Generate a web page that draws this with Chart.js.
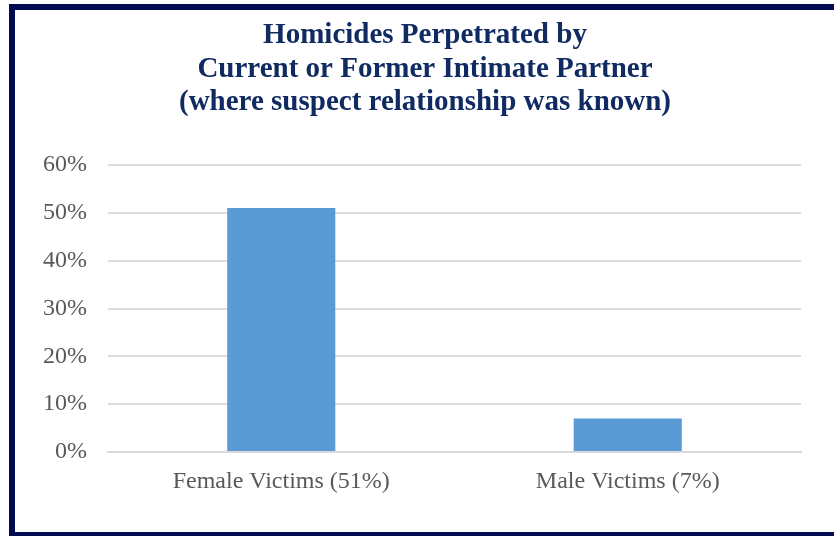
<!DOCTYPE html>
<html>
<head>
<meta charset="utf-8">
<script src="https://cdn.jsdelivr.net/npm/chart.js@4"></script>
<style>
  html, body { margin: 0; padding: 0; background: #fff; overflow: hidden; }
  #frame {
    position: absolute; left: 9px; top: 4px;
    width: 900px; height: 522px;
    border: 6px solid #020a4f;
  }
  #wrap { position: absolute; left: 0; top: 0; width: 834px; height: 536px; }
</style>
</head>
<body>
<div id="frame"></div>
<div id="wrap"><canvas id="myChart" width="834" height="536"></canvas></div>
<script>
// categories and values (percent)
const categories = ["Female Victims (51%)", "Male Victims (7%)"];
const shares = [51, 7];
const titleLines = [
  "Homicides Perpetrated by",
  "Current or Former Intimate Partner",
  "(where suspect relationship was known)",
];

const serif = "'Liberation Serif', 'Times New Roman', serif";

const data = {
  labels: categories,
  datasets: [
    {
      data: shares,
      backgroundColor: "#5b9bd5",
      borderWidth: 0,
      categoryPercentage: 1,
      barPercentage: 0.312,
    },
  ],
};

const config = {
  type: "bar",
  data: data,
  options: {
    responsive: false,
    animation: false,
    // small left padding pushes the centred title a bit to the right
    layout: { padding: { left: 16, right: 0, top: 0, bottom: 0 } },
    plugins: {
      legend: { display: false },
      tooltip: { enabled: false },
      title: {
        display: true,
        text: titleLines,
        color: "#102a62",
        font: { family: serif, size: 29, weight: "bold", lineHeight: 1.15 },
        padding: { top: 19, bottom: 46 },
      },
    },
    scales: {
      x: {
        grid: { display: false, drawTicks: false },
        border: { color: "#d9d9d9", width: 2 },
        ticks: {
          color: "#595959",
          font: { family: serif, size: 24 },
          padding: 15,
        },
        afterFit: (s) => {
          s.height = 84;
        },
      },
      y: {
        min: 0,
        max: 60,
        grid: { color: "#dcdcdc", lineWidth: 2, drawTicks: false },
        border: { display: false },
        ticks: {
          stepSize: 10,
          color: "#595959",
          font: { family: serif, size: 24 },
          padding: 21,
          callback: (value) => {
            return value + "%";
          },
        },
        afterFit: (s) => {
          s.width = 92;
        },
      },
      // empty spacer on the right so the plot ends where the original does
      yRight: {
        position: "right",
        min: 0,
        max: 60,
        grid: { display: false, drawTicks: false },
        border: { display: false },
        ticks: { display: false },
        afterFit: (s) => {
          s.width = 33;
        },
      },
    },
  },
};

let myChart = new Chart(document.getElementById("myChart"), config);
</script>
</body>
</html>
